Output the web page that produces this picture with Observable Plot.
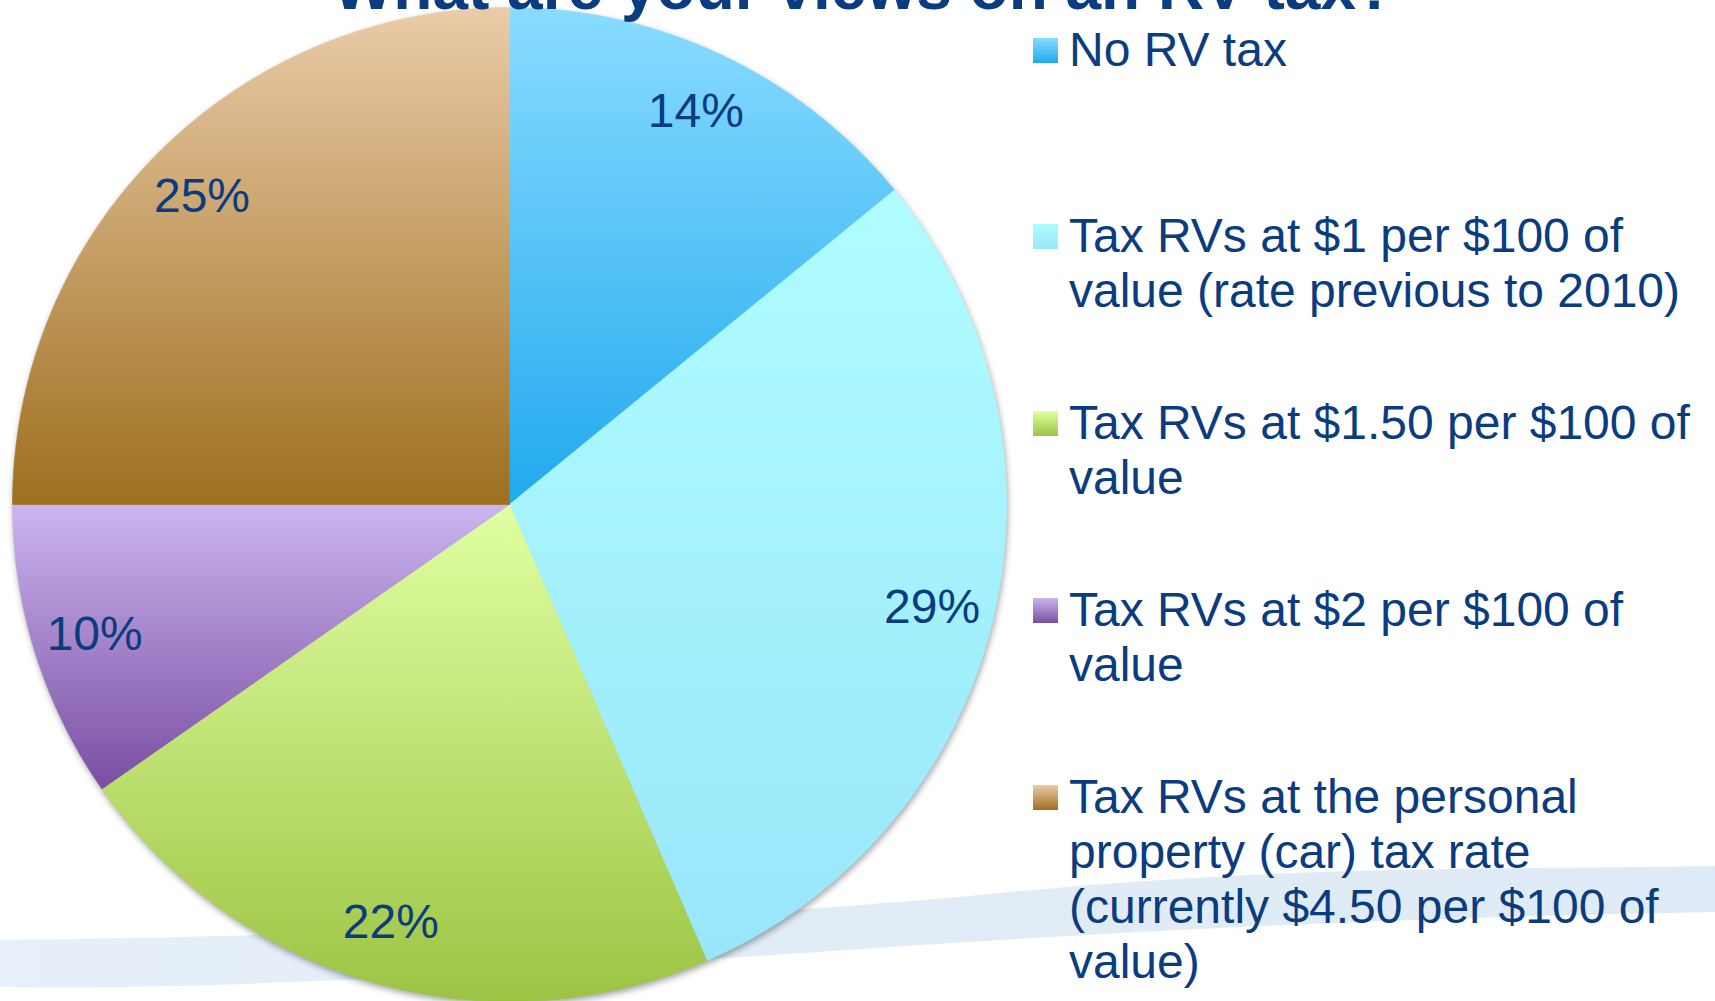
<!DOCTYPE html>
<html>
<head>
<meta charset="utf-8">
<script src="https://cdn.jsdelivr.net/npm/d3@7"></script>
<script src="https://cdn.jsdelivr.net/npm/@observablehq/plot@0.6"></script>
<style>
  html, body { margin: 0; padding: 0; background: #ffffff; overflow: hidden; }
  #stage { position: relative; width: 1715px; height: 1001px; overflow: hidden; background: #ffffff;
           font-family: "Liberation Sans", Arial, sans-serif; }
  #swoosh { position: absolute; left: 0; top: 0; z-index: 0; }
  #chart { position: absolute; left: 0; top: 0; z-index: 1; }
  #chart svg g[aria-label="line"] { filter: drop-shadow(1px 3px 3px rgba(0,0,0,0.35)); }
  #title { position: absolute; z-index: 2; left: 864px; top: -45px; transform: translateX(-50%);
           white-space: nowrap; font-size: 64px; line-height: 64px; font-weight: bold; color: #0B3C80; }
  #legend { position: absolute; z-index: 3; left: 0; top: 0; }
  .entry { position: absolute; left: 1069px; width: 645px; font-size: 48px; line-height: 55px; color: #0B3C80; }
  .swatch { position: absolute; left: 1033px; width: 25px; height: 25px; }
</style>
</head>
<body>
<div id="stage">
  <svg id="swoosh" width="1715" height="1001">
    <defs>
      <linearGradient id="sw" x1="0" y1="0" x2="1" y2="0">
        <stop offset="0" stop-color="#E7F0F8"/>
        <stop offset="0.5" stop-color="#E1ECF6"/>
        <stop offset="1" stop-color="#DEEAF5"/>
      </linearGradient>
    </defs>
    <path d="M0,940 C300,937 700,922 1000,893 S1500,870 1715,866 L1715,912 C1400,918 1200,928 1000,940 S300,992 0,987 Z" fill="url(#sw)"/>
  </svg>
  <svg width="0" height="0" style="position:absolute" id="gradDefs"><defs></defs></svg>
  <div id="chart"></div>
  <div id="title">What are your views on an RV tax?</div>
  <div id="legend"></div>
</div>
<script>
// ---- data ----
const categories = [
  "No RV tax",
  "Tax RVs at $1 per $100 of value (rate previous to 2010)",
  "Tax RVs at $1.50 per $100 of value",
  "Tax RVs at $2 per $100 of value",
  "Tax RVs at the personal property (car) tax rate (currently $4.50 per $100 of value)"
];
const values = [14.1, 29.4, 21.8, 9.7, 25.0];
const labels = ["14%", "29%", "22%", "10%", "25%"];
const topColors = ["#89DCFF", "#AFFDFF", "#E1FFA3", "#CBB5EF", "#EBCCA9"];
const bottomColors = ["#21A9EE", "#99E6FB", "#9CC443", "#7A4EA2", "#9E6F1F"];

// ---- gradients ----
const defs = d3.select("#gradDefs defs");
categories.forEach((c, i) => {
  const g = defs.append("linearGradient").attr("id", "g" + i)
    .attr("x1", 0).attr("y1", 0).attr("x2", 0).attr("y2", 1);
  g.append("stop").attr("offset", 0).attr("stop-color", topColors[i]);
  g.append("stop").attr("offset", 1).attr("stop-color", bottomColors[i]);
});

// ---- slice geometry from values ----
const total = d3.sum(values);
const pts = [];
const labelData = [];
let acc = 0;
values.forEach((v, i) => {
  const a0 = acc / total * 2 * Math.PI;
  acc += v;
  const a1 = acc / total * 2 * Math.PI;
  pts.push({i, x: 0, y: 0});
  const n = Math.max(4, Math.ceil((a1 - a0) / (Math.PI / 720)));
  for (let k = 0; k <= n; k++) {
    const a = a0 + (a1 - a0) * k / n;
    pts.push({i, x: Math.sin(a), y: Math.cos(a)});
  }
  pts.push({i, x: 0, y: 0});
  const am = (a0 + a1) / 2;
  labelData.push({x: 0.875 * Math.sin(am), y: 0.875 * Math.cos(am), label: labels[i]});
});

const chart = Plot.plot({
  width: 1715,
  height: 1001,
  marginLeft: 12,
  marginRight: 709,
  marginTop: 7,
  marginBottom: 0,
  x: {domain: [-1, 1], axis: null},
  y: {domain: [-1, 1], axis: null},
  color: {type: "identity"},
  style: {background: "transparent", overflow: "visible"},
  marks: [
    Plot.line(pts, {x: "x", y: "y", z: "i", fill: d => `url(#g${d.i})`, stroke: d => `url(#g${d.i})`, strokeWidth: 0.6, curve: "linear"}),
    Plot.text(labelData, {x: "x", y: "y", text: "label", fontSize: 48, fill: "#0B3C80",
      fontFamily: "Liberation Sans, Arial, sans-serif", textAnchor: "middle", lineAnchor: "middle"})
  ]
});
document.getElementById("chart").appendChild(chart);

// ---- legend ----
const legend = d3.select("#legend");
categories.forEach((c, i) => {
  const baseline = 65.5 + i * 186.9;
  legend.append("div").attr("class", "swatch")
    .style("top", (baseline - 28) + "px")
    .style("background", `linear-gradient(to bottom, ${topColors[i]}, ${bottomColors[i]})`);
  legend.append("div").attr("class", "entry")
    .style("top", (baseline - 44) + "px")
    .text(c);
});
</script>
</body>
</html>
